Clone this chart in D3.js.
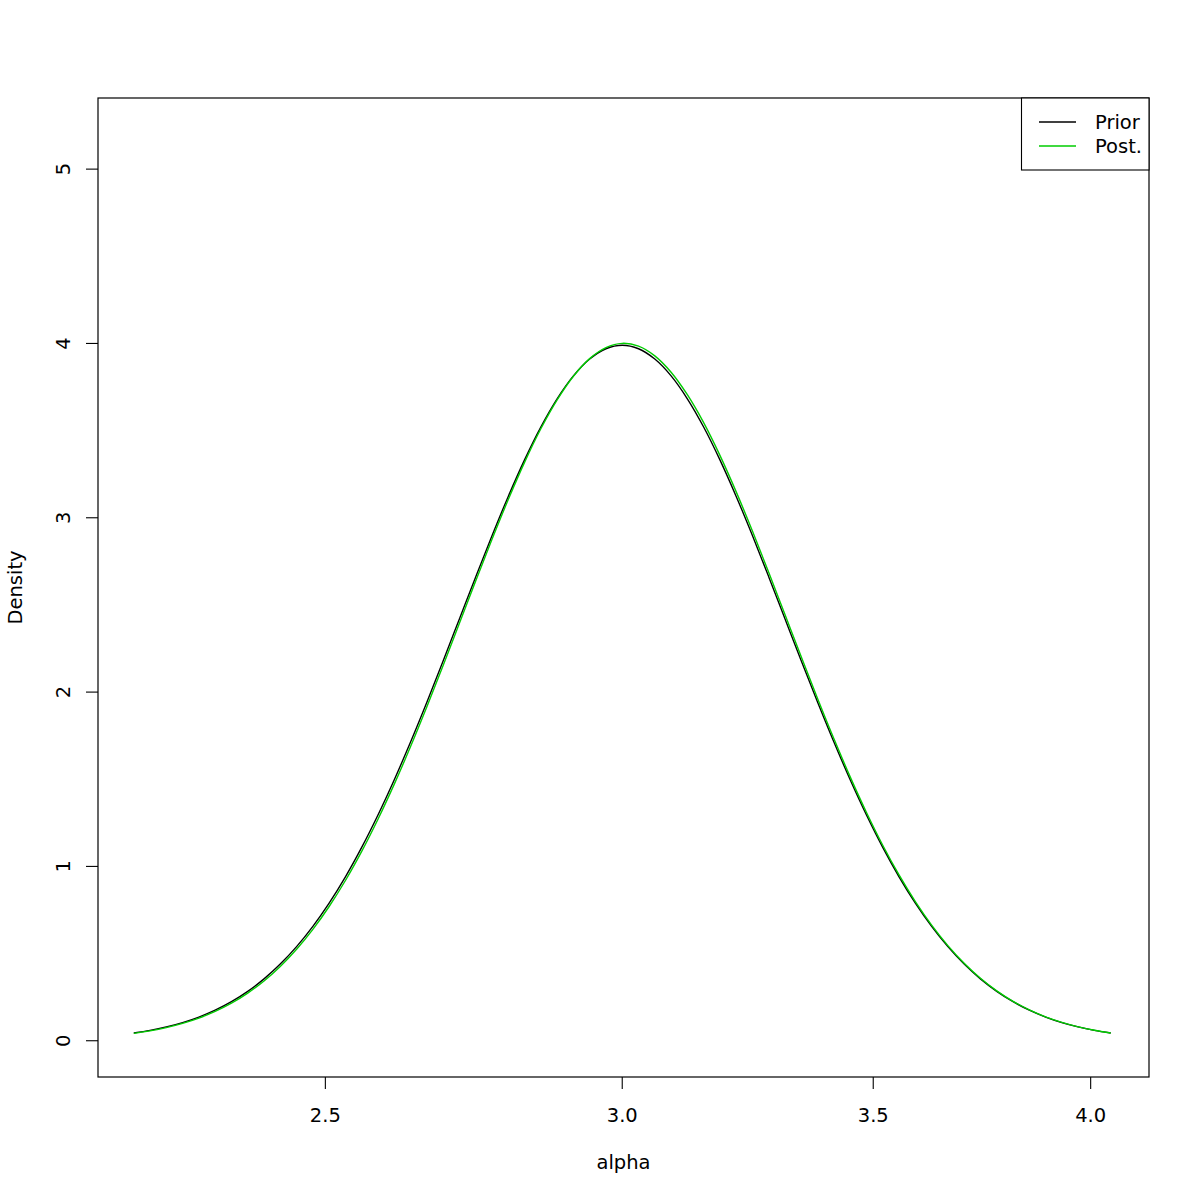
<!DOCTYPE html>
<html>
<head>
<meta charset="utf-8">
<script src="https://cdn.jsdelivr.net/npm/d3@7"></script>
<style>
  html, body { margin: 0; padding: 0; background: #fff; }
  svg text { font-family: "DejaVu Sans", sans-serif; }
</style>
</head>
<body>
<svg id="chart" width="1200" height="1200"></svg>
<script>
const alpha = [2.2225,2.2448,2.2673,2.2901,2.3132,2.3364,2.3599,2.3836,2.4076,2.4317,2.4562,
  2.4809,2.5058,2.5310,2.5564,2.5821,2.6081,2.6343,2.6608,2.6875,2.7145,
  2.7418,2.7694,2.7972,2.8253,2.8537,2.8824,2.9114,2.9406,2.9701,3.0000,
  3.0302,3.0606,3.0914,3.1224,3.1538,3.1855,3.2175,3.2499,3.2825,3.3155,
  3.3488,3.3825,3.4165,3.4508,3.4855,3.5205,3.5559,3.5917,3.6278,3.6642,
  3.7010,3.7382,3.7758,3.8138,3.8521,3.8908,3.9299,3.9694,4.0093,4.0496];
const prior = [0.0443,0.0595,0.0792,0.1042,0.1358,0.1753,0.2239,0.2833,0.3547,0.4398,0.5399,
  0.6562,0.7895,0.9405,1.1092,1.2952,1.4973,1.7137,1.9419,2.1785,2.4197,
  2.6609,2.8969,3.1225,3.3322,3.5207,3.6827,3.8139,3.9104,3.9695,3.9894,
  3.9695,3.9104,3.8139,3.6827,3.5207,3.3322,3.1225,2.8969,2.6609,2.4197,
  2.1785,1.9419,1.7137,1.4973,1.2952,1.1092,0.9405,0.7895,0.6562,0.5399,
  0.4398,0.3547,0.2833,0.2239,0.1753,0.1358,0.1042,0.0792,0.0595,0.0443];
const post = [0.0420,0.0565,0.0754,0.0995,0.1300,0.1683,0.2154,0.2733,0.3429,0.4262,0.5244,
  0.6387,0.7701,0.9192,1.0862,1.2709,1.4720,1.6877,1.9159,2.1528,2.3953,
  2.6380,2.8763,3.1047,3.3179,3.5105,3.6764,3.8121,3.9131,3.9766,4.0006,
  3.9846,3.9288,3.8349,3.7059,3.5457,3.3579,3.1487,2.9227,2.6859,2.4434,
  2.2007,1.9623,1.7322,1.5138,1.3096,1.1216,0.9510,0.7983,0.6634,0.5458,
  0.4445,0.3584,0.2861,0.2260,0.1769,0.1370,0.1050,0.0798,0.0599,0.0446];
const xTicks = [2.5, 3.0, 3.5, 4.0];
const yTicks = [0, 1, 2, 3, 4, 5];
const seriesNames = ["Prior", "Post."];
const seriesColors = ["#000000", "#00cd00"];

const svg = d3.select("#chart");
const L = 98, R = 1149, T = 98, B = 1077;
const x = d3.scaleLog().domain([2.1742, 4.1459]).range([L, R]);
const y = d3.scaleLinear().domain([-0.208, 5.408]).range([B, T]);
const fs = 19.5;

// curves
const line = d3.line().x(d => x(d[0])).y(d => y(d[1])).curve(d3.curveCatmullRom);
[prior, post].forEach((vals, i) => {
  svg.append("path")
    .datum(alpha.map((a, k) => [a, vals[k]]))
    .attr("d", line)
    .attr("fill", "none")
    .attr("stroke", seriesColors[i])
    .attr("stroke-width", 1.4);
});

// frame
svg.append("rect").attr("x", L).attr("y", T).attr("width", R - L).attr("height", B - T)
  .attr("fill", "none").attr("stroke", "#000").attr("stroke-width", 1.2);

// x axis
const xa = svg.append("g");
xTicks.forEach(t => {
  xa.append("line").attr("x1", x(t)).attr("x2", x(t)).attr("y1", B).attr("y2", B + 12)
    .attr("stroke", "#000").attr("stroke-width", 1.1);
  xa.append("text").attr("x", x(t)).attr("y", B + 45).attr("text-anchor", "middle")
    .attr("font-size", fs).text(t.toFixed(1));
});
// y axis
const ya = svg.append("g");
yTicks.forEach(t => {
  ya.append("line").attr("x1", L - 12).attr("x2", L).attr("y1", y(t)).attr("y2", y(t))
    .attr("stroke", "#000").attr("stroke-width", 1.1);
  ya.append("text").attr("transform", `translate(${L - 28},${y(t)}) rotate(-90)`)
    .attr("text-anchor", "middle").attr("font-size", fs).text(String(t));
});

// axis titles
svg.append("text").attr("x", (L + R) / 2).attr("y", 1169).attr("text-anchor", "middle")
  .attr("font-size", fs).text("alpha");
svg.append("text").attr("transform", `translate(22,${(T + B) / 2}) rotate(-90)`)
  .attr("text-anchor", "middle").attr("font-size", fs).text("Density");

// legend
const lg = svg.append("g");
lg.append("rect").attr("x", 1021.5).attr("y", T).attr("width", R - 1021.5).attr("height", 72)
  .attr("fill", "#fff").attr("stroke", "#000").attr("stroke-width", 1.1);
seriesNames.forEach((n, i) => {
  const yy = 122 + i * 24;
  lg.append("line").attr("x1", 1039).attr("x2", 1076).attr("y1", yy).attr("y2", yy)
    .attr("stroke", seriesColors[i]).attr("stroke-width", 1.4);
  lg.append("text").attr("x", 1095).attr("y", yy + 7).attr("font-size", fs).text(n);
});
</script>
</body>
</html>
